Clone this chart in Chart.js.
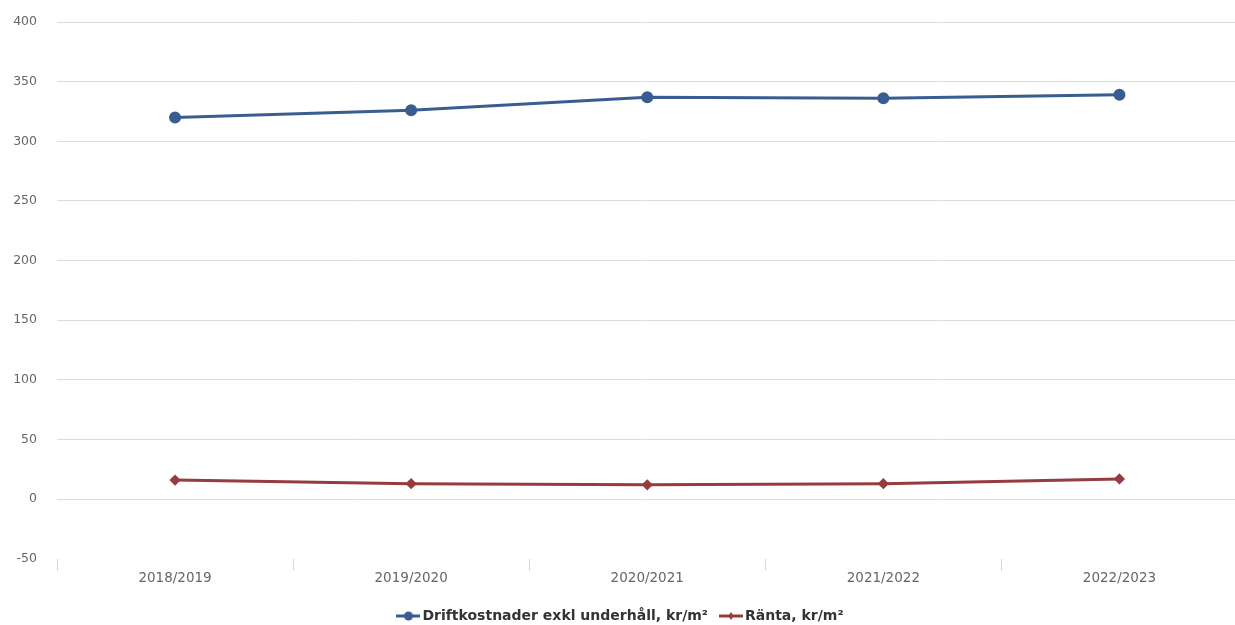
<!DOCTYPE html>
<html>
<head>
<meta charset="utf-8">
<script src="https://cdn.jsdelivr.net/npm/chart.js@4/dist/chart.umd.min.js"></script>
<style>
html,body{margin:0;padding:0;background:#fff;overflow:hidden;width:1235px;height:625px;}
#wrap{position:absolute;left:0;top:0;width:1245px;height:625px;}
</style>
</head>
<body>
<div id="wrap"><canvas id="c" width="1245" height="625"></canvas></div>
<script>
const categories = ["2018/2019","2019/2020","2020/2021","2021/2022","2022/2023"];
const driftkostnader = [320, 326, 337, 336, 339];
const ranta = [16, 13, 12, 13, 17];
const seriesNames = ["Driftkostnader exkl underhåll, kr/m²", "Ränta, kr/m²"];
const yTicks = [-50, 0, 50, 100, 150, 200, 250, 300, 350, 400];

const BLUE = "#3a5d91";
const RED = "#963b3f";

function legendIcon(color, shape) {
  const cv = document.createElement("canvas");
  cv.width = 24; cv.height = 10;
  const g = cv.getContext("2d");
  g.strokeStyle = color; g.fillStyle = color; g.lineWidth = 3;
  g.beginPath(); g.moveTo(0, 5); g.lineTo(24, 5); g.stroke();
  g.beginPath();
  if (shape === "circle") { g.arc(12, 5, 4.5, 0, Math.PI * 2); }
  else { g.moveTo(12, 1); g.lineTo(14.5, 5); g.lineTo(12, 9); g.lineTo(9.5, 5); g.closePath(); }
  g.fill();
  return cv;
}

new Chart(document.getElementById("c"), {
  type: "line",
  data: {
    labels: categories,
    datasets: [
      {
        label: seriesNames[0], data: driftkostnader,
        borderColor: BLUE, backgroundColor: BLUE, borderWidth: 3,
        pointStyle: "circle", pointRadius: 4.5, pointHoverRadius: 4.5,
        tension: 0, fill: false
      },
      {
        label: seriesNames[1], data: ranta,
        borderColor: RED, backgroundColor: RED, borderWidth: 3,
        pointStyle: "rectRot", pointRadius: 3.5, pointHoverRadius: 3.5,
        tension: 0, fill: false
      }
    ]
  },
  options: {
    responsive: false,
    animation: false,
    layout: { padding: { top: 22, left: 0, right: 0, bottom: -8 } },
    plugins: {
      tooltip: { enabled: false },
      legend: {
        position: "bottom",
        labels: {
          usePointStyle: true,
          generateLabels: (chart) => chart.data.datasets.map((ds, i) => ({
            text: ds.label, datasetIndex: i,
            pointStyle: legendIcon(ds.borderColor, i === 0 ? "circle" : "diamond"),
            fillStyle: ds.borderColor, strokeStyle: ds.borderColor, lineWidth: 0,
            fontColor: "#333"
          })),
          font: { family: "DejaVu Sans", size: 14, weight: "bold" },
          color: "#333",
          padding: 16,
          boxWidth: 24, boxHeight: 10
        }
      }
    },
    scales: {
      x: {
        offset: true,
        afterFit: (axis) => { axis.height += 6; },
        grid: { display: true, drawOnChartArea: false, offset: true, tickLength: 12, color: "#d8d8d8" },
        border: { display: false },
        ticks: { color: "#666", font: { family: "DejaVu Sans", size: 13.5 }, padding: 0 }
      },
      y: {
        min: -50, max: 400,
        afterBuildTicks: (axis) => { axis.ticks = yTicks.map(v => ({ value: v })); },
        afterFit: (axis) => { axis.width = 57; axis.paddingTop = 8; axis.paddingBottom = 8; },
        grid: {
          color: (ctx) => (ctx.tick && ctx.tick.value === -50) ? "rgba(0,0,0,0)" : "#dcdcdc",
          drawTicks: false
        },
        border: { display: false },
        ticks: { color: "#666", font: { family: "DejaVu Sans", size: 12.5 }, padding: 20 }
      }
    }
  }
});
</script>
</body>
</html>
